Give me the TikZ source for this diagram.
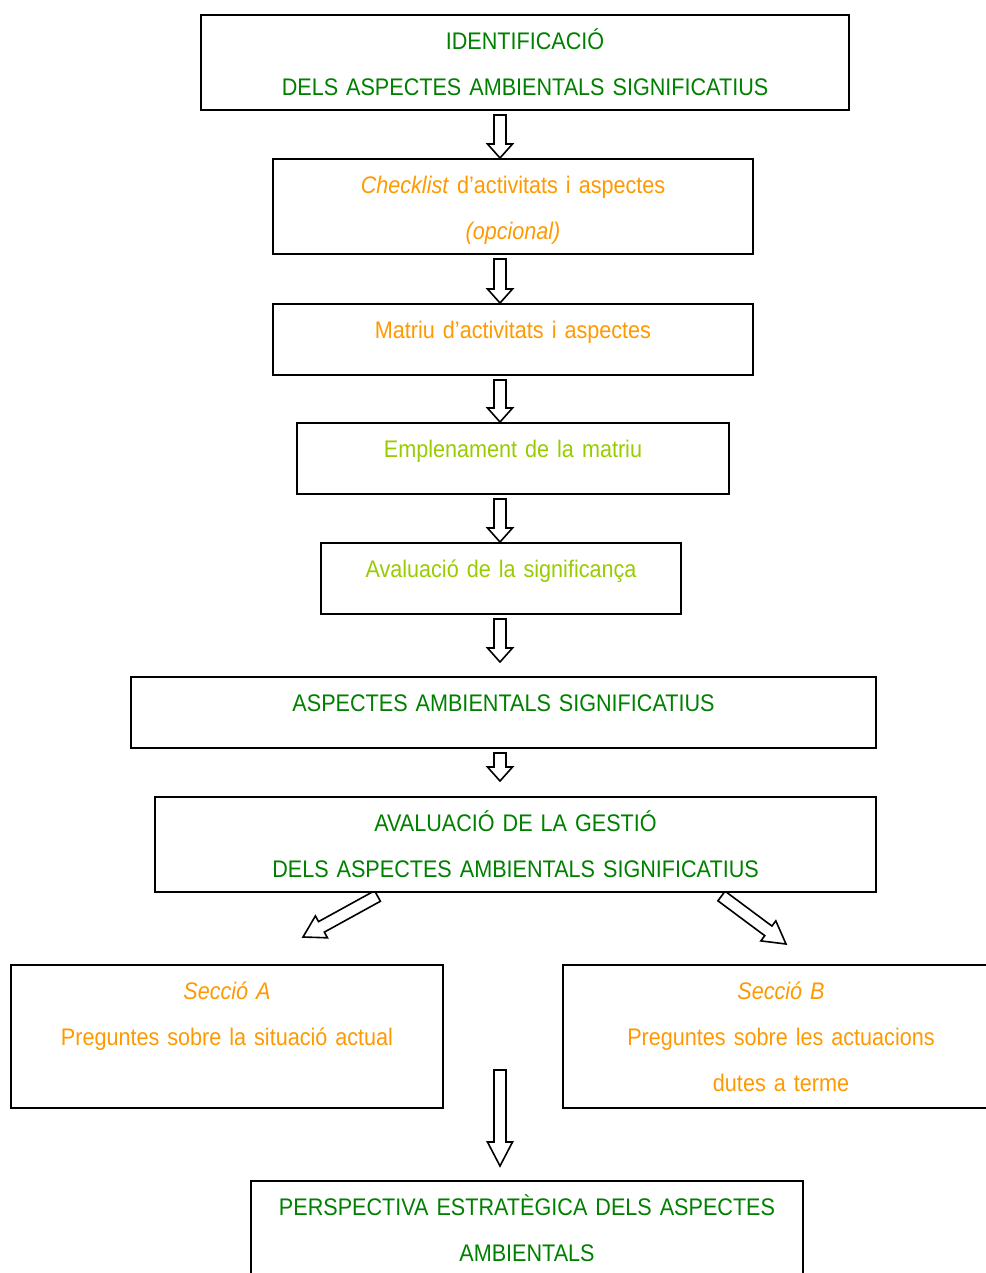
\documentclass[tikz,border=0pt]{standalone}
\usepackage{fontspec}
\setmainfont{Liberation Sans}[FakeStretch=0.9]
\usetikzlibrary{calc,backgrounds}
\definecolor{dkgreen}{RGB}{0,128,0}
\definecolor{orng}{RGB}{255,153,0}
\definecolor{lime}{RGB}{153,204,0}
\tikzset{
  box/.style={draw, line width=1pt, fill=white, inner sep=0pt, align=center,
    anchor=north west, text height=17.3pt, font=\fontsize{12}{23}\selectfont},
  blockarr/.style={draw, line width=0.8pt, fill=white, line join=miter}
}
% block arrow from #2 to #3, head length #1
\newcommand{\blockarrow}[3][7pt]{%
  \path[blockarr] let \p1=(#2), \p2=(#3),
    \n1={atan2(\y2-\y1,\x2-\x1)}, \n2={veclen(\x2-\x1,\y2-\y1)} in
    [shift={(\p1)}, rotate=\n1]
    (0pt,3pt) -- ({\n2-#1},3pt) -- ({\n2-#1},6.25pt) -- ({\n2+0pt},0pt)
    -- ({\n2-#1},-6.25pt) -- ({\n2-#1},-3pt) -- (0pt,-3pt) -- cycle;}
\begin{document}
\begin{tikzpicture}[x=0.5pt,y=-0.5pt]
  \useasboundingbox (0,0) rectangle (985,1273);
  \coordinate (axis) at (500,0);
  \node[box, text width=324pt, text depth=30.2pt, text=dkgreen] (ident) at (200,14)
    {IDENTIFICACIÓ\\DELS ASPECTES AMBIENTALS SIGNIFICATIUS};
  \node[box, text width=240pt, text depth=30.2pt, text=orng] (check) at (272,158)
    {\textit{Checklist} d’activitats i aspectes\\\textit{(opcional)}};
  \node[box, text width=240pt, text depth=18.2pt, text=orng] (matriu) at (272,303)
    {Matriu d’activitats i aspectes};
  \node[box, text width=216pt, text depth=18.2pt, text=lime] (omplir) at (296,422)
    {Emplenament de la matriu};
  \node[box, text width=180pt, text depth=18.2pt, text=lime] (signif) at (320,542)
    {Avaluació de la significança};
  \node[box, text width=372.5pt, text depth=18.2pt, text=dkgreen] (aspectes) at (130,676)
    {ASPECTES AMBIENTALS SIGNIFICATIUS};
  \node[box, text width=360.5pt, text depth=30.2pt, text=dkgreen] (gestio) at (154,796)
    {AVALUACIÓ DE LA GESTIÓ\\DELS ASPECTES AMBIENTALS SIGNIFICATIUS};
  \node[box, text width=216pt, text depth=54.2pt, text=orng] (seccA) at (10,964)
    {\textit{Secció A}\\Preguntes sobre la situació actual};
  \node[box, text width=218pt, text depth=54.2pt, text=orng] (seccB) at (562,964)
    {\textit{Secció B}\\Preguntes sobre les actuacions\\dutes a terme};
  \node[box, text width=276pt, text depth=54.2pt, text=dkgreen] (persp) at (250,1180)
    {PERSPECTIVA ESTRATÈGICA DELS ASPECTES\\AMBIENTALS};
  \coordinate (tipA) at (303,937);
  \coordinate (tipB) at (786,944);
  \coordinate (topC) at (500,1070);
  \begin{scope}[on background layer]
    \blockarrow{$(ident.south -| axis)+(0,4)$}{check.north -| axis}
    \blockarrow{$(check.south -| axis)+(0,4)$}{matriu.north -| axis}
    \blockarrow{$(matriu.south -| axis)+(0,4)$}{omplir.north -| axis}
    \blockarrow{$(omplir.south -| axis)+(0,4)$}{signif.north -| axis}
    \blockarrow{$(signif.south -| axis)+(0,4)$}{$(aspectes.north -| axis)+(0,-14)$}
    \blockarrow{$(aspectes.south -| axis)+(0,4)$}{$(gestio.north -| axis)+(0,-15)$}
    \blockarrow[10.5pt]{$(gestio.south)+(-138,3)$}{tipA}
    \blockarrow[11pt]{$(gestio.south)+(206,3)$}{tipB}
  \end{scope}
  \blockarrow[12pt]{topC}{$(persp.north -| axis)+(0,-14)$}
\end{tikzpicture}
\end{document}
